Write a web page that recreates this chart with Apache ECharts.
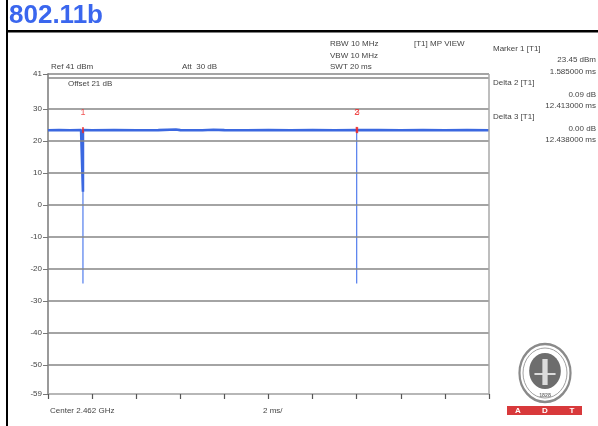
<!DOCTYPE html>
<html><head><meta charset="utf-8">
<script src="https://cdn.jsdelivr.net/npm/echarts@6/dist/echarts.min.js"></script>
<style>html,body{margin:0;padding:0;background:#fff;}#c{width:598px;height:426px;}</style>
</head><body><div id="c"></div>
<script>
// ---- data ----
const yTickValues = [41, 30, 20, 10, 0, -10, -20, -30, -40, -50, -59];
const gridValues = [41, 39.7, 30, 20, 10, 0, -10, -20, -30, -40, -50];
const traceTimes = [0, 0.5, 1.0, 1.5, 1.585, 1.585, 1.585, 2.0, 3.0, 4.0, 5.0, 5.8, 6.0, 7.0, 7.5, 8.0, 9.0, 10.0, 11.0, 12.0, 13.0, 14.0, 15.0, 16.0, 17.0, 18.0, 19.0, 20.0];
const traceValues = [23.4, 23.45, 23.4, 23.45, 23.45, 4.2, 23.45, 23.4, 23.45, 23.4, 23.45, 23.65, 23.45, 23.4, 23.6, 23.45, 23.4, 23.45, 23.4, 23.45, 23.4, 23.5, 23.45, 23.4, 23.45, 23.4, 23.45, 23.4];
const spikeTimes = [1.585, 13.998];
const spikeTop = [23.45, 23.54];
const spikeBottom = [-24.5, -24.5];
const markerNames = ['1', '2', '3'];
const markerTimes = [1.585, 13.998, 14.023];
const markerValues = [23.45, 23.54, 23.45];
const headerLeft = ['Ref 41 dBm', 'Att  30 dB', 'Offset 21 dB'];
const headerMid = ['RBW 10 MHz', 'VBW 10 MHz', 'SWT 20 ms', '[T1] MP VIEW'];
const markerInfo = [
  ['Marker 1 [T1]', '23.45 dBm', '1.585000 ms'],
  ['Delta 2 [T1]', '0.09 dB', '12.413000 ms'],
  ['Delta 3 [T1]', '0.00 dB', '12.438000 ms']
];
const footer = ['Center 2.462 GHz', '2 ms/'];
const title = '802.11b';

// ---- build ----
const FONT = '"Liberation Sans", Arial, sans-serif';
const trace = traceTimes.map((t, i) => [t, traceValues[i]]);
const spikeSeries = spikeTimes.map((t, i) => ({
  type: 'line', silent: true, symbol: 'none', z: 3,
  data: [[t, spikeTop[i]], [t, spikeBottom[i]]],
  lineStyle: { color: '#5f86ee', width: 1.3 }
}));
const markers = markerTimes.map((t, i) => ({ name: markerNames[i], value: [t, markerValues[i]] }));

function txt(x, y, s, opt) {
  return { type: 'text', x: x, y: y, style: Object.assign({ text: s, font: '8px ' + FONT, fill: '#444', textVerticalAlign: 'middle' }, opt || {}) };
}
const graphics = [];
graphics.push({ type: 'text', x: 9, y: 3, style: { text: title, font: 'bold 26px ' + FONT, fill: '#3a66ee' } });
graphics.push({ type: 'rect', shape: { x: 6, y: 0, width: 2, height: 426 }, style: { fill: '#000' } });
graphics.push({ type: 'rect', shape: { x: 6, y: 30, width: 592, height: 2.5 }, style: { fill: '#000' } });
graphics.push(txt(51, 67, headerLeft[0]));
graphics.push(txt(182, 67, headerLeft[1]));
graphics.push(txt(68, 84, headerLeft[2]));
graphics.push(txt(330, 44, headerMid[0]));
graphics.push(txt(330, 55.5, headerMid[1]));
graphics.push(txt(330, 67, headerMid[2]));
graphics.push(txt(414, 44, headerMid[3]));
markerInfo.forEach((m, i) => {
  const y0 = 48.5 + i * 34.3;
  graphics.push(txt(493, y0, m[0]));
  graphics.push(txt(596, y0 + 11.5, m[1], { textAlign: 'right' }));
  graphics.push(txt(596, y0 + 23, m[2], { textAlign: 'right' }));
});
graphics.push(txt(50, 411, footer[0]));
graphics.push(txt(263, 411, footer[1]));
// logo
graphics.push({ type: 'group', x: 545, y: 373, scaleX: 0.88, children: [
  { type: 'circle', shape: { cx: 0, cy: 0, r: 29 }, style: { fill: '#fff', stroke: '#8a8a8a', lineWidth: 2.5 } },
  { type: 'circle', shape: { cx: 0, cy: 0, r: 25 }, style: { fill: '#fff', stroke: '#999', lineWidth: 1 } },
  { type: 'circle', shape: { cx: 0, cy: -2, r: 18 }, style: { fill: '#6d6d6d' } },
  { type: 'rect', shape: { x: -3, y: -14, width: 6, height: 26 }, style: { fill: '#dcdcdc' } },
  { type: 'rect', shape: { x: -12, y: 0, width: 24, height: 2 }, style: { fill: '#dcdcdc' } },
  { type: 'text', x: 0, y: 22, style: { text: '1828', font: 'bold 6px ' + FONT, fill: '#777', textAlign: 'center', textVerticalAlign: 'middle' } }
]});
graphics.push({ type: 'rect', shape: { x: 507, y: 406, width: 75, height: 9 }, style: { fill: '#d8393b' } });
['A', 'D', 'T'].forEach((s, i) => graphics.push({ type: 'text', x: 518 + i * 27, y: 410.5, style: { text: s, font: 'bold 8px ' + FONT, fill: '#fff', textAlign: 'center', textVerticalAlign: 'middle' } }));

const chart = echarts.init(document.getElementById('c'), null, { renderer: 'canvas' });
chart.setOption({
  animation: false,
  backgroundColor: '#fff',
  grid: { left: 48, right: 109, top: 74, bottom: 32, containLabel: false },
  xAxis: {
    type: 'value', min: 0, max: 20, interval: 2,
    axisLine: { show: true, onZero: false, lineStyle: { color: '#a0a0a0', width: 1.5 } },
    axisTick: { show: true, length: 5, lineStyle: { color: '#555', width: 1.2 } },
    axisLabel: { show: false }, splitLine: { show: false }
  },
  yAxis: {
    type: 'value', min: -59, max: 41,
    axisLine: { show: true, lineStyle: { color: '#9a9a9a', width: 2 } },
    axisTick: { show: true, length: 5, customValues: yTickValues, lineStyle: { color: '#777', width: 1 } },
    axisLabel: { show: true, customValues: yTickValues, fontSize: 8, fontFamily: FONT, color: '#444', margin: 6 },
    splitLine: { show: false }
  },
  graphic: graphics,
  series: [
    {
      type: 'line', silent: true, symbol: 'none', z: 4, data: trace,
      lineStyle: { color: '#3b68e0', width: 2.6 },
      markLine: {
        silent: true, symbol: 'none', label: { show: false }, animation: false,
        lineStyle: { color: '#868686', width: 1.6, type: 'solid' },
        data: gridValues.map(v => ({ yAxis: v })).concat([{ xAxis: 20, lineStyle: { color: '#a8a8a8', width: 1.5 } }])
      }
    }
  ].concat(spikeSeries).concat([
    {
      type: 'scatter', silent: true, z: 6, data: markers,
      symbol: 'rect', symbolSize: [2, 6],
      itemStyle: { color: '#ee2a2a' },
      label: { show: true, position: 'top', distance: 10, formatter: p => p.name, color: '#ee2a2a', fontSize: 9, fontFamily: FONT }
    }
  ])
});
</script></body></html>
